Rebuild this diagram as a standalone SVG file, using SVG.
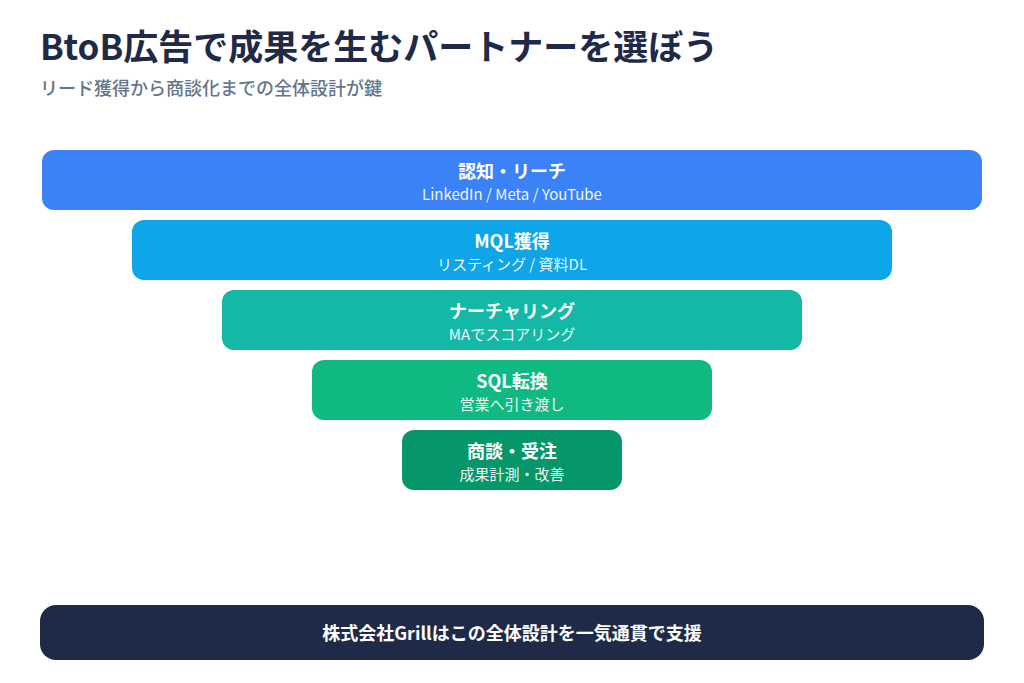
<svg xmlns="http://www.w3.org/2000/svg" width="1024" height="683" viewBox="0 0 1024 683">
<style>
text{font-family:"Noto Sans CJK JP","Noto Sans",sans-serif;}
.t{font-size:18px;font-weight:700;fill:#fff;text-anchor:middle}
.s{font-size:15px;fill:#fff;text-anchor:middle;opacity:.92}
</style>
<rect width="1024" height="683" fill="#fff"/>
<text x="40" y="60" font-size="35" font-weight="700" fill="#1E2A47">BtoB広告で成果を生むパートナーを選ぼう</text>
<text x="40" y="95" font-size="18" font-weight="500" fill="#64748B">リード獲得から商談化までの全体設計が鍵</text>
<g id="n1"><rect x="42" y="150" width="940" height="60" rx="12" fill="#3B82F6"/><text class="t" x="512" y="178">認知・リーチ</text><text class="s" x="512" y="200">LinkedIn / Meta / YouTube</text></g>
<g id="n2"><rect x="132" y="220" width="760" height="60" rx="12" fill="#0EA5E9"/><text class="t" x="512" y="248">MQL獲得</text><text class="s" x="512" y="270">リスティング / 資料DL</text></g>
<g id="n3"><rect x="222" y="290" width="580" height="60" rx="12" fill="#14B8A6"/><text class="t" x="512" y="318">ナーチャリング</text><text class="s" x="512" y="340">MAでスコアリング</text></g>
<g id="n4"><rect x="312" y="360" width="400" height="60" rx="12" fill="#10B981"/><text class="t" x="512" y="388">SQL転換</text><text class="s" x="512" y="410">営業へ引き渡し</text></g>
<g id="n5"><rect x="402" y="430" width="220" height="60" rx="12" fill="#059669"/><text class="t" x="512" y="458">商談・受注</text><text class="s" x="512" y="480">成果計測・改善</text></g>
<g id="connectors"></g>
<g id="footer"><rect x="40" y="605" width="944" height="55" rx="16" fill="#1E2A47"/><text class="t" x="512" y="640">株式会社Grillはこの全体設計を一気通貫で支援</text></g>
</svg>
